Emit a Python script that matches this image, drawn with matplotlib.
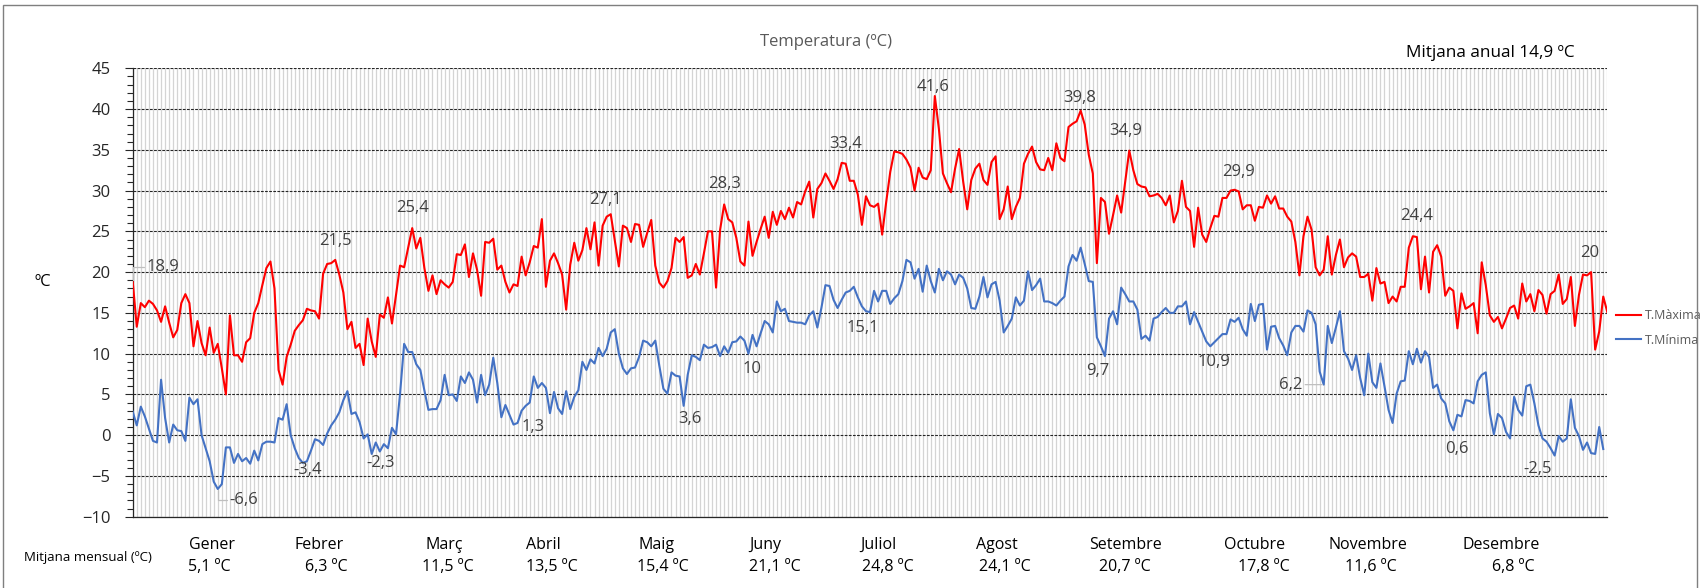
import numpy as np
import matplotlib
matplotlib.use('Agg')
import matplotlib.pyplot as plt
from matplotlib.ticker import MultipleLocator, FixedLocator
from matplotlib.patches import Rectangle

plt.rcParams['font.family'] = ['Open Sans', 'DejaVu Sans']

# daily maximum temperature (ºC), one value per day of the year
t_max = [
    18.9, 13.3, 16.2, 15.7, 16.5, 16.1, 15.3, 13.9, 15.8, 13.8,
    12.0, 12.9, 16.2, 17.3, 16.2, 10.9, 14.0, 11.3, 9.8, 13.2,
    10.1, 11.2, 8.2, 5.0, 14.7, 9.8, 9.8, 9.0, 11.4, 11.9,
    15.0, 16.2, 18.4, 20.5, 21.3, 18.0, 8.0, 6.2, 9.6, 11.1,
    12.8, 13.5, 14.1, 15.5, 15.3, 15.2, 14.3, 19.8, 21.0, 21.1,
    21.5, 19.7, 17.5, 13.0, 13.9, 10.7, 11.2, 8.6, 14.3, 11.5,
    9.6, 14.8, 14.4, 16.9, 13.7, 17.2, 20.8, 20.6, 23.0, 25.4,
    22.9, 24.2, 20.5, 17.7, 19.6, 17.3, 19.0, 18.5, 18.1, 18.8,
    22.2, 22.1, 23.4, 19.4, 22.3, 20.3, 17.1, 23.7, 23.6, 24.1,
    20.3, 20.8, 18.8, 17.5, 18.5, 18.3, 21.9, 19.6, 21.2, 23.2,
    23.0, 26.5, 18.2, 21.4, 22.3, 21.1, 19.7, 15.4, 20.9, 23.6,
    21.4, 22.7, 25.4, 22.8, 26.1, 20.8, 25.7, 26.8, 27.1, 23.9,
    20.7, 25.7, 25.4, 23.7, 25.9, 25.8, 23.1, 24.8, 26.4, 20.8,
    18.7, 18.1, 18.9, 20.5, 24.2, 23.7, 24.3, 19.3, 19.6, 21.0,
    19.7, 22.3, 25.0, 25.0, 18.1, 25.2, 28.3, 26.5, 26.1, 24.2,
    21.3, 20.8, 26.2, 22.0, 23.7, 25.3, 26.8, 24.2, 27.4, 25.8,
    27.5, 26.5, 27.9, 26.7, 28.6, 28.3, 29.9, 31.1, 26.7, 30.2,
    30.9, 32.1, 31.2, 30.2, 31.4, 33.4, 33.3, 31.2, 31.2, 29.5,
    25.8, 29.3, 28.2, 28.0, 28.4, 24.6, 28.6, 32.3, 34.8, 34.7,
    34.5, 33.8, 32.8, 30.0, 32.8, 31.6, 31.4, 32.5, 41.6, 37.6,
    32.1, 30.9, 29.8, 32.7, 35.1, 31.1, 27.7, 31.3, 32.7, 33.3,
    31.3, 30.7, 33.5, 34.2, 26.5, 27.7, 30.5, 26.5, 28.0, 29.1,
    33.3, 34.5, 35.4, 33.5, 32.6, 32.5, 34.0, 32.5, 35.8, 34.0,
    33.6, 37.8, 38.2, 38.5, 39.8, 38.1, 34.4, 32.1, 21.1, 29.1,
    28.6, 24.7, 27.0, 29.4, 27.3, 31.1, 34.9, 32.5, 30.8, 30.5,
    30.4, 29.3, 29.4, 29.6, 29.1, 28.2, 29.4, 26.1, 27.5, 31.2,
    28.0, 27.5, 23.1, 27.9, 24.6, 23.7, 25.4, 26.9, 26.8, 29.1,
    29.1, 30.0, 30.1, 29.9, 27.7, 28.2, 28.2, 26.3, 28.0, 27.9,
    29.4, 28.4, 29.3, 27.8, 27.8, 26.8, 26.2, 23.7, 19.6, 24.4,
    26.8, 25.2, 20.6, 19.6, 20.3, 24.4, 19.7, 22.1, 24.0, 20.6,
    21.8, 22.3, 21.9, 19.4, 19.4, 19.8, 16.5, 20.5, 18.6, 18.8,
    16.2, 17.0, 16.4, 18.2, 18.2, 23.0, 24.4, 24.3, 17.9, 21.9,
    17.5, 22.5, 23.3, 21.9, 17.1, 18.1, 17.7, 13.1, 17.4, 15.5,
    15.8, 16.2, 12.5, 21.2, 18.4, 14.7, 13.9, 14.5, 13.1, 14.3,
    15.6, 15.9, 14.3, 18.6, 16.4, 17.3, 15.2, 17.8, 17.2, 14.9,
    17.3, 17.7, 19.7, 16.1, 16.7, 19.4, 13.4, 17.2, 19.7, 19.6,
    20.0, 10.5, 12.7, 17.0, 15.1,
]

# daily minimum temperature (ºC); last day has no reading
t_min = [
    2.9, 1.2, 3.5, 2.3, 0.8, -0.7, -0.9, 6.8, 2.1, -0.9,
    1.3, 0.6, 0.5, -0.7, 4.6, 3.8, 4.4, 0.0, -1.6, -3.2,
    -5.7, -6.6, -6.0, -1.5, -1.5, -3.4, -2.3, -3.2, -2.8, -3.5,
    -1.9, -3.1, -1.1, -0.8, -0.8, -0.9, 2.1, 1.9, 3.8, 0.0,
    -1.6, -2.8, -3.4, -3.2, -1.9, -0.5, -0.7, -1.2, 0.2, 1.2,
    1.9, 2.8, 4.3, 5.4, 2.6, 2.8, 1.6, -0.4, 0.1, -2.3,
    -0.9, -2.0, -1.1, -1.6, 0.9, 0.1, 5.1, 11.2, 10.2, 10.2,
    8.7, 8.0, 5.5, 3.1, 3.2, 3.2, 4.3, 7.4, 4.9, 5.0,
    4.2, 7.2, 6.4, 7.7, 6.8, 4.0, 7.4, 4.9, 6.2, 9.5,
    6.4, 2.2, 3.7, 2.5, 1.3, 1.5, 3.0, 3.6, 4.0, 7.2,
    5.8, 6.4, 5.8, 2.7, 5.3, 3.3, 2.6, 5.4, 3.2, 4.7,
    5.5, 9.0, 8.0, 9.3, 8.8, 10.7, 9.7, 10.6, 12.6, 13.0,
    10.0, 8.2, 7.5, 8.2, 8.3, 9.6, 11.6, 11.4, 10.9, 11.6,
    8.5, 5.7, 5.1, 7.7, 7.3, 7.2, 3.6, 7.4, 9.8, 9.6,
    9.2, 11.1, 10.7, 10.8, 11.1, 9.7, 10.9, 10.1, 11.4, 11.5,
    12.1, 11.6, 10.0, 12.3, 10.9, 12.5, 14.0, 13.6, 12.6, 16.4,
    15.2, 15.5, 14.0, 13.9, 13.8, 13.8, 13.6, 14.7, 15.2, 13.2,
    15.6, 18.4, 18.3, 16.6, 15.6, 16.6, 17.5, 17.7, 18.2, 16.9,
    15.8, 15.2, 15.1, 17.7, 16.4, 17.7, 17.7, 16.1, 16.8, 17.3,
    18.9, 21.5, 21.2, 19.2, 20.4, 17.6, 20.8, 18.9, 17.5, 20.4,
    19.0, 20.1, 19.7, 18.5, 19.7, 19.3, 18.0, 15.6, 15.5, 17.0,
    19.4, 16.9, 18.5, 18.8, 16.5, 12.6, 13.4, 14.3, 16.9, 15.9,
    16.5, 20.1, 17.8, 18.4, 19.2, 16.4, 16.4, 16.2, 15.9, 16.5,
    17.0, 20.7, 22.1, 21.4, 23.0, 21.0, 18.9, 18.8, 12.0, 10.9,
    9.7, 14.3, 15.2, 13.6, 18.1, 17.3, 16.4, 16.4, 15.4, 11.8,
    12.2, 11.6, 14.3, 14.5, 15.1, 15.6, 15.0, 15.0, 15.8, 15.8,
    16.4, 13.6, 15.1, 13.9, 12.7, 11.5, 10.9, 11.4, 11.9, 12.4,
    12.4, 14.2, 13.9, 14.4, 13.0, 12.2, 16.1, 14.0, 16.0, 16.1,
    10.5, 13.3, 13.4, 11.9, 11.0, 9.8, 12.6, 13.4, 13.4, 12.7,
    15.3, 15.0, 13.6, 7.8, 6.2, 13.4, 11.3, 13.2, 15.2, 10.3,
    9.4, 8.0, 9.8, 7.0, 4.9, 10.0, 6.5, 5.8, 8.8, 6.0,
    3.1, 1.5, 5.1, 6.6, 6.7, 10.3, 8.7, 10.6, 8.9, 10.3,
    9.6, 5.8, 6.2, 4.5, 3.9, 1.7, 0.6, 2.5, 2.3, 4.3,
    4.2, 3.9, 6.6, 7.4, 7.7, 2.7, 0.1, 2.6, 2.1, 0.4,
    -0.4, 4.7, 3.1, 2.4, 6.0, 6.2, 3.9, 1.2, -0.4, -0.8,
    -1.6, -2.5, -0.1, -0.8, -0.4, 4.4, 0.9, -0.1, -1.8, -0.9,
    -2.2, -2.3, 1.0, -1.7, np.nan,
]

# days carrying the monthly extreme labels
max_label_days = [0, 50, 69, 118, 146, 175, 198, 234, 246, 273, 316, 360]
min_label_days = [21, 42, 59, 94, 136, 152, 182, 240, 266, 294, 326, 351]

months = ['Gener', 'Febrer', 'Març', 'Abril', 'Maig', 'Juny', 'Juliol',
          'Agost', 'Setembre', 'Octubre', 'Novembre', 'Desembre']
month_means = [5.1, 6.3, 11.5, 13.5, 15.4, 21.1, 24.8, 24.1, 20.7, 17.8, 11.6, 6.8]
annual_mean = 14.9

# label offsets in pixels (dx, dy), leader style (None = no leader)
ANG = 'angle,angleA=180,angleB=90,rad=0'
max_offsets = [(30, 14, ANG), (0, 19, None), (0, 20, None), (-5, 14, None),
               (0, 20, None), (4, 19, None), (-2, 9, None), (-1, 13, None),
               (-4, 20, None), (0, 19, None), (4, 20, None), (-1, 19, None)]
min_offsets = [(26, -11, ANG), (5, -7, None), (9, -9, None), (20, -2, None),
               (6, -13, None), (4, -15, None), (-7, -16, None), (-7, -15, None),
               (4, -16, None), (-33, 0, 'arc3'), (4, -19, None), (-17, -13, None)]

# horizontal pixel positions of the bottom month texts
month_name_px = [212, 319, 444, 543, 656, 765, 878, 997, 1126, 1255, 1368, 1501]
month_val_px = [209, 326, 448, 552, 663, 775, 888, 1005, 1125, 1264, 1371, 1513]

W, H = 1704, 588
TXT = '#404040'


def fmt(v):
    s = f'{v:.1f}'.replace('.', ',')
    return s[:-2] if s.endswith(',0') else s


fig = plt.figure(figsize=(W / 100, H / 100), dpi=100)
fig.patch.set_facecolor('white')

# outer frame
fig.patches.append(Rectangle((3 / W, -0.02), 1694 / W, (H - 5) / H + 0.02,
                             transform=fig.transFigure, fill=False,
                             edgecolor='#7f7f7f', linewidth=1))

ax = fig.add_axes([132.7 / W, 71.3 / H, 1474.6 / W, 448.4 / H])
days = np.arange(len(t_max))
ax.plot(days, t_max, color='#FF0000', lw=1.5, label='T.Màxima', zorder=4)
ax.plot(np.arange(len(t_min)), t_min, color='#4472C4', lw=1.5, label='T.Mínima', zorder=4)

ax.set_xlim(0, len(t_max) - 1)
ax.set_ylim(-10, 45)

# one light vertical line per day
ax.xaxis.set_major_locator(FixedLocator(days))
ax.tick_params(axis='x', length=0, labelbottom=False)
ax.xaxis.grid(True, color='#d4d4d4', lw=0.9, zorder=0)

ax.yaxis.set_major_locator(MultipleLocator(5))
ax.yaxis.set_minor_locator(MultipleLocator(1))
ax.yaxis.grid(True, which='major', color='#262626', lw=0.8, linestyle=(0, (2.5, 1.2)), zorder=1)
ax.tick_params(axis='y', which='major', length=6, width=0.8, color='#262626',
               labelsize=12, labelcolor='#262626', pad=10)
ax.tick_params(axis='y', which='minor', length=4, width=0.8, color='#262626')
ax.set_axisbelow(True)

for s in ['top', 'right']:
    ax.spines[s].set_visible(False)
for s in ['left', 'bottom']:
    ax.spines[s].set_color('#262626')
    ax.spines[s].set_linewidth(0.9)

# monthly extreme labels
for days_, series, offsets in [(max_label_days, t_max, max_offsets),
                               (min_label_days, t_min, min_offsets)]:
    for d, (dx, dy, lead) in zip(days_, offsets):
        v = series[d]
        ax.annotate(fmt(v), xy=(d, v), xytext=(dx, dy), textcoords='offset pixels',
                    ha='center', va='center', fontsize=12, color=TXT, zorder=5,
                    arrowprops=dict(arrowstyle='-', color='#bfbfbf', lw=0.9,
                                    shrinkA=0, shrinkB=1, relpos=(0, 0.5),
                                    connectionstyle=lead) if lead else None)

ax.legend(loc='center left', bbox_to_anchor=(1605 / W, 1 - 328 / H),
          bbox_transform=fig.transFigure, frameon=False, fontsize=9,
          handlelength=2.0, handletextpad=0.3, labelspacing=0.9,
          labelcolor='#595959')

# titles and side texts
fig.text(826 / W, 1 - 42 / H, 'Temperatura (ºC)', ha='center', va='center',
         fontsize=12, color='#595959')
fig.text(1575 / W, 1 - 53 / H, f'Mitjana anual {fmt(annual_mean)} ºC', ha='right',
         va='center', fontsize=12.3, color='black')
fig.text(43 / W, 1 - 282 / H, 'ºC', ha='center', va='center', fontsize=12, color='black')

# monthly means under the chart
fig.text(24 / W, 1 - 557 / H, 'Mitjana mensual (ºC)', ha='left', va='center',
         fontsize=9.5, color='black')
for name, val, xn, xv in zip(months, month_means, month_name_px, month_val_px):
    fig.text(xn / W, 1 - 545 / H, name, ha='center', va='center', fontsize=11.5, color='black')
    fig.text(xv / W, 1 - 567 / H, f'{fmt(val)} ºC', ha='center', va='center',
             fontsize=11.5, color='black')

fig.savefig('out.png', dpi=100)
